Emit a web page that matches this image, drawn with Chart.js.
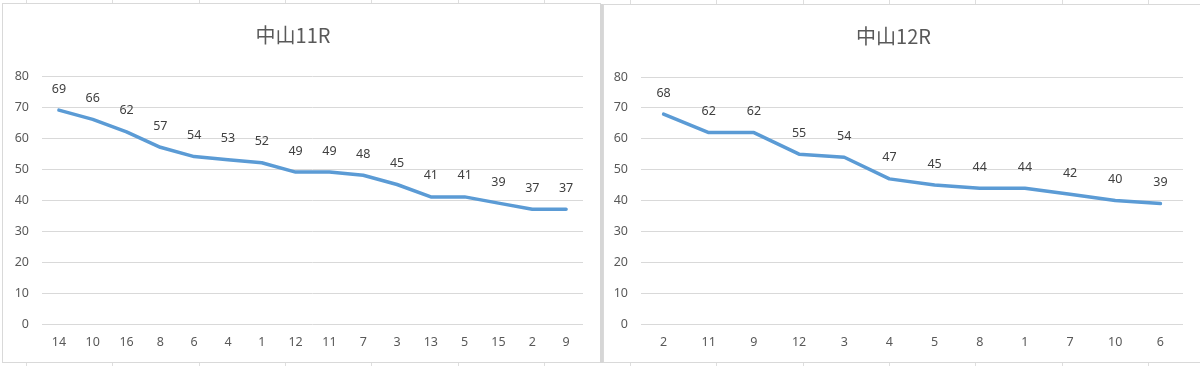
<!DOCTYPE html>
<html>
<head>
<meta charset="utf-8">
<script src="https://cdn.jsdelivr.net/npm/chart.js@4/dist/chart.umd.min.js"></script>
<style>
  html, body { margin: 0; padding: 0; }
  body {
    width: 1200px; height: 366px; overflow: hidden; position: relative;
    background-color: #fff;
    background-image: repeating-linear-gradient(to right, transparent 0, transparent 26px, #dedede 26px, #dedede 27px, transparent 27px, transparent 86.3px);
  }
  .box { position: absolute; background: #fff; border: 1px solid #d9d9d9; box-sizing: border-box; }
  #box1 { left: 2px; top: 3px; width: 599px; height: 360px; }
  #box2 { left: 603px; top: 4px; width: 600px; height: 359px; }
  #sep { position: absolute; left: 600px; top: 4px; width: 3px; height: 359px; background: #d6d6d6; }
  canvas { position: absolute; left: 0; top: 0; }
</style>
</head>
<body>
<div class="box" id="box1"><canvas id="c11" width="597" height="358"></canvas></div>
<div id="sep"></div>
<div class="box" id="box2"><canvas id="c12" width="596" height="357"></canvas></div>
<script>
// 中山11R
var cats11 = ['14', '10', '16', '8', '6', '4', '1', '12', '11', '7', '3', '13', '5', '15', '2', '9'];
var vals11 = [69, 66, 62, 57, 54, 53, 52, 49, 49, 48, 45, 41, 41, 39, 37, 37];
// 中山12R
var cats12 = ['2', '11', '9', '12', '3', '4', '5', '8', '1', '7', '10', '6'];
var vals12 = [68, 62, 62, 55, 54, 47, 45, 44, 44, 42, 40, 39];

var yMin = 0, yMax = 80, yStep = 10;

var FONT = '"Noto Sans", "Noto Sans CJK JP", sans-serif';

// simple value labels above each point
var valueLabels = {
  id: 'valueLabels',
  afterDatasetsDraw: function (chart) {
    var ctx = chart.ctx;
    ctx.save();
    ctx.font = '12.5px ' + FONT;
    ctx.fillStyle = '#404040';
    ctx.textAlign = 'center';
    ctx.textBaseline = 'middle';
    chart.data.datasets.forEach(function (ds, i) {
      chart.getDatasetMeta(i).data.forEach(function (pt, j) {
        ctx.fillText(ds.data[j], pt.x, pt.y - 21);
      });
    });
    ctx.restore();
  }
};

function makeChart(id, title, cats, vals, yWidth) {
  return new Chart(document.getElementById(id).getContext('2d'), {
    type: 'line',
    data: {
      labels: cats,
      datasets: [{
        data: vals,
        borderColor: '#5b9bd5',
        borderWidth: 3.5,
        borderCapStyle: 'round',
        borderJoinStyle: 'round',
        pointRadius: 0,
        pointHoverRadius: 0,
        tension: 0,
        fill: false
      }]
    },
    options: {
      responsive: false,
      animation: false,
      layout: { padding: { left: 0, right: 17, top: 0, bottom: 1 } },
      plugins: {
        legend: { display: false },
        tooltip: { enabled: false },
        title: {
          display: true,
          text: title,
          color: '#595959',
          font: { family: '"Noto Sans CJK JP", sans-serif', size: 20, weight: 'normal' },
          padding: { top: 19, bottom: 29 }
        }
      },
      scales: {
        x: {
          offset: true,
          grid: { display: false, drawTicks: false },
          border: { display: false },
          ticks: { color: '#595959', font: { family: FONT, size: 12.5 }, padding: 11, maxRotation: 0, autoSkip: false }
        },
        y: {
          min: yMin,
          max: yMax,
          grid: { color: '#d9d9d9', lineWidth: 1, drawTicks: false },
          border: { display: false },
          ticks: { stepSize: yStep, color: '#595959', font: { family: FONT, size: 12.5 }, padding: 13 },
          afterFit: function (s) { s.width = yWidth; }
        }
      }
    },
    plugins: [valueLabels]
  });
}

makeChart('c11', '中山11R', cats11, vals11, 39);
makeChart('c12', '中山12R', cats12, vals12, 37);
</script>
</body>
</html>
